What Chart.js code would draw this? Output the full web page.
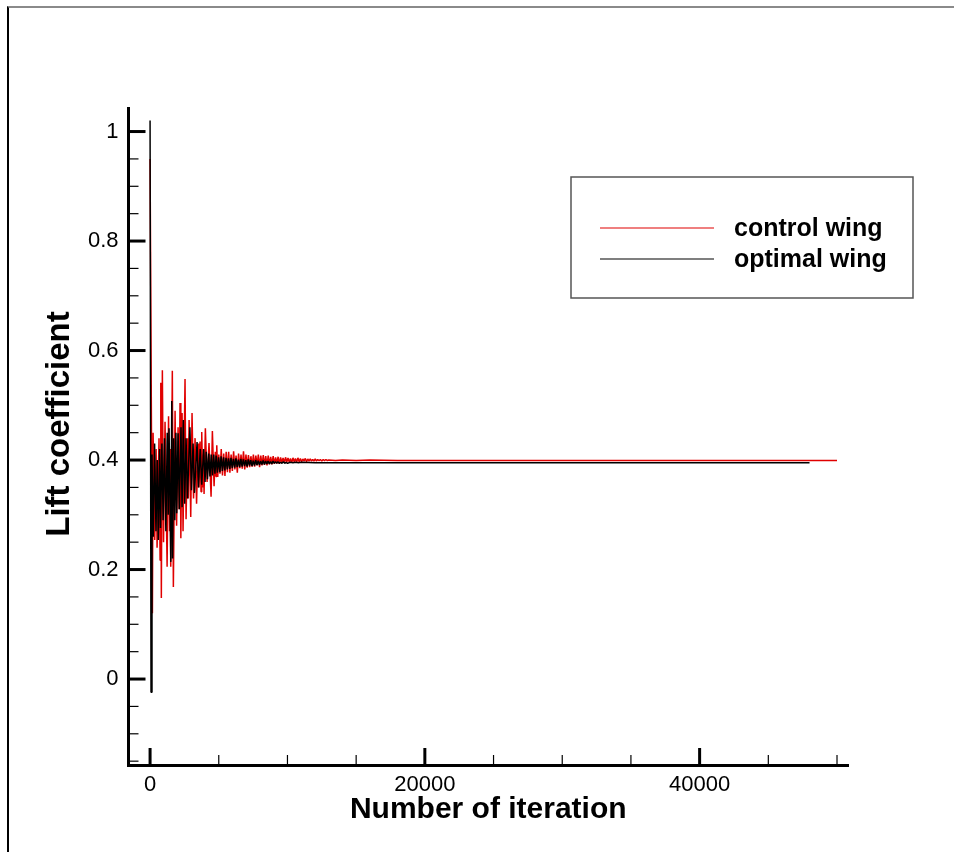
<!DOCTYPE html>
<html lang="en">
<head>
  <meta charset="UTF-8" />
  <title>Lift coefficient history</title>
  <script src="https://cdn.jsdelivr.net/npm/chart.js"></script>
  <style>
    html, body { margin: 0; padding: 0; background: #fff; }
    #frame { position: absolute; left: 7px; top: 6px; width: 947px; height: 846px;
             border-top: 2px solid #8a8a8a; border-left: 2px solid #000; box-sizing: border-box; }
    #chart { position: absolute; left: 0; top: 0; }
  </style>
</head>
<body>
  <div id="frame"></div>
  <canvas id="chart" width="954" height="852"></canvas>

  <script>
    // control wing (red)
    const redIter = [0, 170, 220, 340, 440, 510, 650, 730, 780, 820, 895, 980, 1090, 1240, 1345, 1420, 1460, 1505,
      1620, 1695, 1820, 1930, 2040, 2110, 2180, 2240, 2330, 2400, 2545, 2620, 2730, 2780, 2840, 2960, 3055, 3165,
      3275, 3385, 3490, 3560, 3640, 3710, 3760, 3840, 3880, 3930, 4025, 4150, 4290, 4440, 4535, 4660, 4750, 4800,
      4855, 4925,
      5000, 5090, 5180, 5270, 5360, 5450, 5540, 5630, 5720, 5810, 5900, 5990, 6080, 6170, 6260, 6350, 6440, 6530,
      6620, 6710, 6800, 6890, 6980, 7070, 7160, 7250, 7340, 7430, 7520, 7610, 7700, 7790, 7880, 7970, 8060, 8150,
      8240, 8330, 8420, 8510, 8600, 8690, 8780, 8870, 8960, 9050, 9140, 9230, 9320, 9410, 9500, 9590, 9680, 9770,
      9860, 9950, 10040, 10130, 10220, 10310, 10400, 10490, 10580, 10670, 10760, 10850, 10940, 11030, 11120,
      11210, 11300, 11390, 11480, 11570, 11660, 11750, 11840, 11930, 12020, 12110, 12200, 12300, 12400, 12500,
      12600, 12700, 12800, 12900, 13000, 13500, 14000, 15000, 16000, 18000, 20000, 30000, 40000, 50000];
    const redLift = [0.95, 0.12, 0.45, 0.254, 0.42, 0.24, 0.44, 0.217, 0.541, 0.148, 0.564, 0.25, 0.47, 0.205, 0.48,
      0.27, 0.42, 0.205, 0.563, 0.168, 0.49, 0.28, 0.46, 0.31, 0.504, 0.257, 0.486, 0.27, 0.548, 0.292, 0.44, 0.33,
      0.473, 0.296, 0.486, 0.33, 0.44, 0.32, 0.43, 0.35, 0.434, 0.342, 0.451, 0.35, 0.41, 0.338, 0.458, 0.36, 0.431,
      0.333, 0.453, 0.352, 0.415, 0.37, 0.427, 0.369,
      0.41, 0.375, 0.42, 0.372, 0.412, 0.371, 0.415, 0.378, 0.415, 0.377, 0.41, 0.38, 0.416, 0.383, 0.408, 0.377,
      0.412, 0.385, 0.41, 0.384, 0.416, 0.383, 0.41, 0.386, 0.409, 0.387, 0.407, 0.388, 0.41, 0.388, 0.408, 0.39,
      0.41, 0.387, 0.408, 0.39, 0.409, 0.391, 0.407, 0.39, 0.408, 0.392, 0.406, 0.392, 0.407, 0.393, 0.405, 0.394,
      0.406, 0.393, 0.405, 0.395, 0.404, 0.395, 0.405, 0.396, 0.404, 0.396, 0.403, 0.395, 0.404, 0.397, 0.403,
      0.396, 0.404, 0.397, 0.403, 0.397, 0.402, 0.398, 0.403, 0.397, 0.402, 0.398, 0.402, 0.398, 0.401, 0.398,
      0.402, 0.398, 0.401, 0.399, 0.401, 0.398, 0.401, 0.399, 0.401, 0.399, 0.4, 0.399, 0.4, 0.399, 0.4, 0.399,
      0.399, 0.399, 0.399, 0.399];

    // optimal wing (black)
    const blackIter = [0, 70, 140, 230, 330, 430, 520, 600, 700, 760, 860, 950, 1050, 1150, 1250, 1320, 1380, 1510,
      1580, 1640, 1720, 1800, 1880, 1940, 2040, 2130, 2250, 2330, 2420, 2520, 2620, 2720, 2900, 3010, 3130, 3230,
      3420, 3520, 3650, 3760, 3900,
      4000, 4090, 4180, 4270, 4360, 4450, 4540, 4630, 4720, 4810, 4900, 4990, 5080, 5170, 5260, 5350, 5440, 5530,
      5620, 5710, 5800, 5890, 5980, 6070, 6160, 6250, 6340, 6430, 6520, 6610, 6700, 6790, 6880, 6970, 7060, 7150,
      7240, 7330, 7420, 7510, 7600, 7690, 7780, 7870, 7960, 8050, 8140, 8230, 8320, 8410, 8500, 8590, 8680, 8770,
      8860, 8950, 9040, 9130, 9220, 9310, 9400, 9500, 9600, 9700, 9800, 9900, 10000, 10200, 10400, 10600, 10800,
      11000, 12000, 14000, 20000, 30000, 40000, 48000];
    const blackLift = [1.02, -0.024, 0.41, 0.26, 0.43, 0.27, 0.40, 0.254, 0.42, 0.276, 0.43, 0.29, 0.44, 0.27, 0.45,
      0.30, 0.458, 0.214, 0.508, 0.22, 0.44, 0.29, 0.45, 0.303, 0.449, 0.31, 0.46, 0.314, 0.473, 0.32, 0.44, 0.33,
      0.46, 0.345, 0.43, 0.34, 0.433, 0.35, 0.42, 0.355, 0.42,
      0.36, 0.415, 0.365, 0.412, 0.37, 0.41, 0.372, 0.41, 0.375, 0.408, 0.377, 0.405, 0.378, 0.407, 0.38, 0.405,
      0.381, 0.404, 0.383, 0.403, 0.384, 0.404, 0.385, 0.402, 0.386, 0.403, 0.387, 0.401, 0.387, 0.402, 0.388,
      0.401, 0.389, 0.4, 0.388, 0.401, 0.39, 0.4, 0.389, 0.399, 0.39, 0.4, 0.391, 0.399, 0.391, 0.398, 0.392,
      0.399, 0.392, 0.398, 0.393, 0.398, 0.393, 0.397, 0.393, 0.398, 0.394, 0.397, 0.394, 0.397, 0.394, 0.396,
      0.394, 0.397, 0.394, 0.396, 0.394, 0.396, 0.395, 0.396, 0.395, 0.396, 0.395, 0.395, 0.395, 0.395, 0.395,
      0.395];

    const seriesNames = ['control wing', 'optimal wing'];
    const xTitle = 'Number of iteration';
    const yTitle = 'Lift coefficient';
    const xTicks = [0, 20000, 40000];
    const xMinor = [5000, 10000, 15000, 25000, 30000, 35000, 45000, 50000];
    const yTicks = [0, 0.2, 0.4, 0.6, 0.8, 1];
    const yMinor = [-0.15, -0.1, -0.05, 0.05, 0.1, 0.15, 0.25, 0.3, 0.35, 0.45, 0.5, 0.55, 0.65, 0.7, 0.75,
      0.85, 0.9, 0.95];

    const FONT = '"Liberation Sans", Arial, sans-serif';
    const toPoints = (xs, ys) => xs.map((x, i) => ({ x, y: ys[i] }));

    // inward tick marks, like the tecplot original
    const innerTicks = {
      id: 'innerTicks',
      afterDraw(chart) {
        const { ctx, chartArea, scales: { x, y } } = chart;
        ctx.save();
        ctx.strokeStyle = '#000';
        const mark = (len, w, vals, horiz) => {
          ctx.lineWidth = w;
          vals.forEach(v => {
            ctx.beginPath();
            if (horiz) {
              const px = x.getPixelForValue(v);
              ctx.moveTo(px, chartArea.bottom);
              ctx.lineTo(px, chartArea.bottom - len);
            } else {
              const py = y.getPixelForValue(v);
              ctx.moveTo(chartArea.left, py);
              ctx.lineTo(chartArea.left + len, py);
            }
            ctx.stroke();
          });
        };
        mark(17, 3, xTicks, true);
        mark(10, 1.2, xMinor, true);
        mark(17, 3, yTicks, false);
        mark(10, 1.2, yMinor, false);
        ctx.restore();
      }
    };

    // y title sits a bit above the plot centre in the original
    const sideTitle = {
      id: 'sideTitle',
      afterDraw(chart) {
        const ctx = chart.ctx;
        ctx.save();
        ctx.translate(60, 424);
        ctx.rotate(-Math.PI / 2);
        ctx.font = 'bold 33px ' + FONT;
        ctx.textAlign = 'center';
        ctx.textBaseline = 'middle';
        ctx.fillStyle = '#000';
        ctx.fillText(yTitle, 0, 0);
        ctx.restore();
      }
    };

    const legendBox = {
      id: 'legendBox',
      afterDraw(chart) {
        const ctx = chart.ctx;
        ctx.save();
        ctx.strokeStyle = '#555';
        ctx.lineWidth = 1.5;
        ctx.strokeRect(571, 177, 342, 121);
        ctx.font = 'bold 25px ' + FONT;
        ctx.textBaseline = 'alphabetic';
        ctx.fillStyle = '#000';
        chart.data.datasets.forEach((ds, i) => {
          const ly = 228 + i * 31;
          ctx.strokeStyle = ds.borderColor;
          ctx.lineWidth = 1.2;
          ctx.beginPath();
          ctx.moveTo(600, ly);
          ctx.lineTo(714, ly);
          ctx.stroke();
          ctx.fillText(ds.label, 734, ly + 8);
        });
        ctx.restore();
      }
    };

    new Chart(document.getElementById('chart'), {
      type: 'scatter',
      data: {
        datasets: [
          { label: seriesNames[0], data: toPoints(redIter, redLift), borderColor: '#e00000', order: 1 },
          { label: seriesNames[1], data: toPoints(blackIter, blackLift), borderColor: '#000000', order: 0 }
        ]
      },
      options: {
        responsive: false,
        animation: false,
        layout: { padding: { left: 0, top: 108, right: 106, bottom: 0 } },
        elements: {
          point: { radius: 0, hoverRadius: 0 },
          line: { borderWidth: 1.5, tension: 0, borderJoinStyle: 'bevel' }
        },
        datasets: { scatter: { showLine: true } },
        plugins: { legend: { display: false }, tooltip: { enabled: false } },
        scales: {
          x: {
            type: 'linear',
            min: -1570,
            max: 50800,
            afterFit: s => { s.height = 87; },
            afterBuildTicks: s => { s.ticks = xTicks.map(v => ({ value: v })); },
            grid: { display: true, drawOnChartArea: false, drawTicks: false, color: 'transparent' },
            border: { display: true, width: 3, color: '#000' },
            ticks: {
              padding: 7,
              color: '#000',
              font: { family: FONT, size: 22 },
              callback: v => String(v)
            },
            title: {
              display: true,
              text: xTitle,
              color: '#000',
              font: { family: FONT, size: 30, weight: 'bold', lineHeight: 1 },
              padding: { top: 0, bottom: 27 }
            }
          },
          y: {
            type: 'linear',
            min: -0.157,
            max: 1.043,
            afterFit: s => { s.width = 128.5; },
            afterBuildTicks: s => { s.ticks = yTicks.map(v => ({ value: v })); },
            grid: { display: true, drawOnChartArea: false, drawTicks: false, color: 'transparent' },
            border: { display: true, width: 3, color: '#000' },
            ticks: {
              padding: 10,
              color: '#000',
              font: { family: FONT, size: 22 },
              callback: v => String(v)
            }
          }
        }
      },
      plugins: [innerTicks, sideTitle, legendBox]
    });
  </script>
</body>
</html>
